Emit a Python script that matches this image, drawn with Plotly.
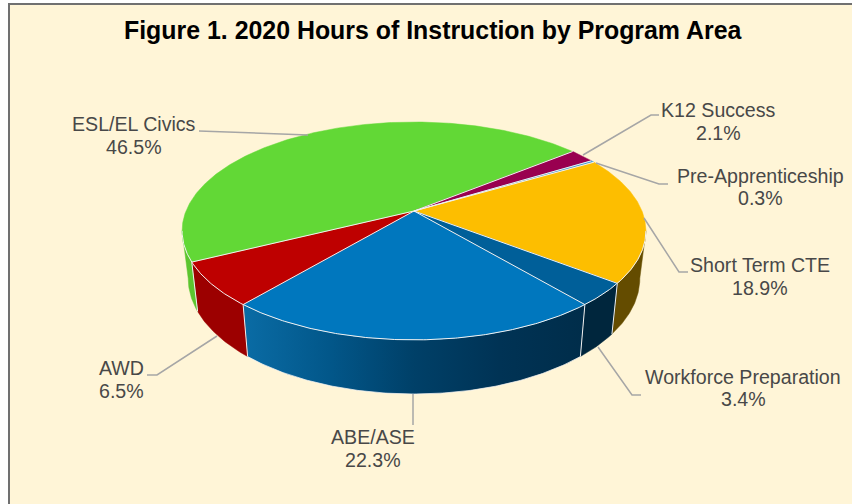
import math
import plotly.graph_objects as go

# ---- data ----
programs = ["ABE/ASE", "AWD", "ESL/EL Civics", "K12 Success", "Pre-Apprenticeship", "Short Term CTE", "Workforce Preparation"]
shares = [22.3, 6.5, 46.5, 2.1, 0.3, 18.9, 3.4]

# ---- style ----
top_colors = ["#0077BE", "#BE0000", "#62D836", "#990050", "#3C9BDC", "#FDBE00", "#005F99"]
wall_colors = ["#004068", "#9C0000", "#5CC52F", "#7A0040", "#2F7DB0", "#644C00", "#00263D"]
abe_gradient = [[0, "#0A6CA5"], [0.25, "#02578A"], [0.5, "#004068"], [0.75, "#003355"], [1, "#002D4A"]]
BG = "#FFF5D7"
EDGE = "#F1F1F1"
LEADER = "#A6A6A6"
TEXT = "#484848"
FONT = "Liberation Sans"
START = 139.86  # clockwise from 12 o'clock, first slice start

# perspective disc parameters (pixels)
K = -0.183
TOP = dict(cx=414, cy=211, a=228, b=105.3)
BOT = dict(cx=414, cy=257.3, a=222, b=111.7)
VIS = (100.5, 259.5)  # visible wall range (silhouette tangents), degrees


def pt(phi, d):
    r = math.radians(phi)
    X, Y = math.sin(r), -math.cos(r)
    w = 1 + K * Y
    return d["cx"] + d["a"] * X / w, d["cy"] + d["b"] * Y / w


def arc(p0, p1, d):
    n = max(2, int(abs(p1 - p0) / 0.5) + 1)
    return [pt(p0 + (p1 - p0) * i / (n - 1), d) for i in range(n)]


edges = [START]
for s in shares:
    edges.append(edges[-1] + s * 3.6)

fig = go.Figure()


def poly(points, **kw):
    fig.add_trace(go.Scatter(x=[p[0] for p in points], y=[p[1] for p in points], hoverinfo="skip", showlegend=False, **kw))


# side walls
for i in range(len(shares)):
    a0, a1 = edges[i], edges[i + 1]
    for shift in (0, -360):
        lo, hi = max(a0 + shift, VIS[0]), min(a1 + shift, VIS[1])
        if hi <= lo:
            continue
        pts = arc(lo, hi, TOP) + arc(hi, lo, BOT)
        pts.append(pts[0])
        if i == 0:
            poly(pts, mode="lines", line=dict(width=0), fill="toself",
                 fillgradient=dict(type="horizontal", colorscale=abe_gradient))
        else:
            poly(pts, mode="lines", line=dict(width=0.5, color=wall_colors[i]), fill="toself", fillcolor=wall_colors[i])

# wall separators and lower rim
for e in edges[:-1]:
    p = e % 360
    if VIS[0] <= p <= VIS[1]:
        poly([pt(p, TOP), pt(p, BOT)], mode="lines", line=dict(color=EDGE, width=1))
poly(arc(edges[0], edges[1], BOT), mode="lines", line=dict(color=EDGE, width=0.75))

# top faces
centre = (TOP["cx"], TOP["cy"])
for i in range(len(shares)):
    pts = [centre] + arc(edges[i], edges[i + 1], TOP) + [centre]
    poly(pts, mode="lines", line=dict(width=0.5, color=top_colors[i]), fill="toself", fillcolor=top_colors[i])

# slice separators and upper front rim
for e in edges[:-1]:
    poly([centre, pt(e, TOP)], mode="lines", line=dict(color=EDGE, width=1))
poly(arc(VIS[0], VIS[1], TOP), mode="lines", line=dict(color=EDGE, width=1))

# label placement (pixels): label centre x, first line y, second line y, leader path
layout_info = {
    "ABE/ASE": (373, 437, 460, [(413, 425), (413, 394)]),
    "AWD": (121, 368, 391, [(147, 375), (157, 375), (217, 336)]),
    "ESL/EL Civics": (134, 124, 147, [(199, 131), (308, 135)]),
    "K12 Success": (718, 110, 133, [(659, 115), (651, 115), (583, 155)]),
    "Pre-Apprenticeship": (760, 176, 198, [(668, 184), (659, 184), (596, 163)]),
    "Short Term CTE": (760, 265, 288, [(688, 272), (679, 272), (644, 218)]),
    "Workforce Preparation": (743, 377, 399, [(641, 395), (632, 395), (598, 347)]),
}
annotations = [dict(text="<b>Figure 1. 2020 Hours of Instruction by Program Area</b>", x=433, y=30,
                    xref="x", yref="y", showarrow=False, xanchor="center", yanchor="middle",
                    font=dict(family=FONT, size=24.9, color="#000000"))]
for name, share in zip(programs, shares):
    lx, ly1, ly2, path = layout_info[name]
    poly(path, mode="lines", line=dict(color=LEADER, width=1.5))
    for txt, ly in ((name, ly1), (f"{share:.1f}%", ly2)):
        annotations.append(dict(text=txt, x=lx, y=ly, xref="x", yref="y", showarrow=False,
                                xanchor="center", yanchor="middle", align="center",
                                font=dict(family=FONT, size=19.6, color=TEXT)))

fig.update_layout(
    width=852, height=504, autosize=False,
    margin=dict(l=0, r=0, t=0, b=0),
    paper_bgcolor="#FFFFFF", plot_bgcolor="#FFFFFF",
    showlegend=False,
    annotations=annotations,
    xaxis=dict(range=[0, 852], visible=False, fixedrange=True),
    yaxis=dict(range=[504, 0], visible=False, fixedrange=True),
    shapes=[dict(type="rect", xref="x", yref="y", x0=9, y0=4, x1=860, y1=520,
                 line=dict(color="#707070", width=2), fillcolor=BG, layer="below")],
)
fig.write_html("out.html", config={"displayModeBar": False},
               post_script="document.body.style.margin='0';document.body.style.overflow='hidden';")
